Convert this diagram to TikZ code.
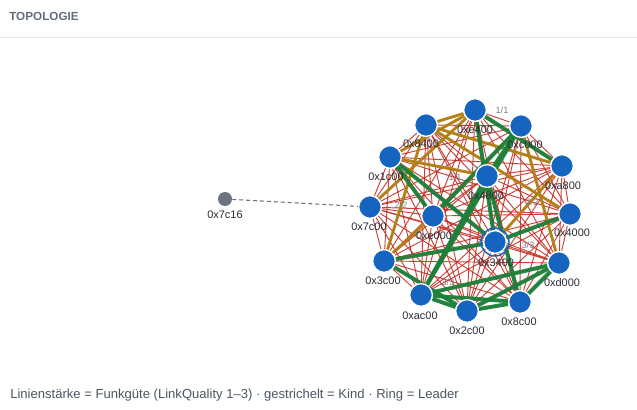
\documentclass[tikz,border=0pt]{standalone}
\usepackage{fontspec}
\setmainfont{Liberation Sans}
\usetikzlibrary{backgrounds}
\definecolor{nodeblue}{RGB}{21,101,192}
\definecolor{redl}{RGB}{196,45,35}
\definecolor{goldl}{RGB}{178,128,20}
\definecolor{greenl}{RGB}{28,128,58}
\definecolor{grayn}{RGB}{107,114,128}
\definecolor{labc}{RGB}{40,44,52}
\definecolor{hdr}{RGB}{100,108,122}
\definecolor{rule}{RGB}{229,231,235}
\definecolor{foot}{RGB}{75,85,99}
\definecolor{elab}{RGB}{120,128,140}
\tikzset{
  dev/.style={circle,fill=nodeblue,draw=white,line width=1pt,minimum size=17pt,inner sep=0pt},
  child/.style={circle,fill=grayn,minimum size=10.5pt,inner sep=0pt},
  nlab/.style={font=\fontsize{8.2}{9}\selectfont,text=labc,inner sep=0pt},
  redline/.style={draw=redl,line width=0.7pt,opacity=0.9},
  goldline/.style={draw=goldl,line width=2.2pt,opacity=0.95},
  greenline/.style={draw=greenl,line width=3pt,opacity=0.95},
  kidline/.style={draw=grayn,line width=0.8pt,dash pattern=on 3pt off 2.2pt},
  elabel/.style={font=\fontsize{6.8}{8}\selectfont,text=elab,inner sep=0pt},
}
\begin{document}
\begin{tikzpicture}[x=0.75pt,y=-0.75pt]
\path[use as bounding box] (0,0) rectangle (637,410);
\node[anchor=west,font=\bfseries\fontsize{8.8}{10}\selectfont,text=hdr,inner sep=0pt] (hd) at (9,16) {TOPOLOGIE};
\draw[rule,line width=0.75pt] (0,38) -- (637,38);
\node[anchor=west,font=\fontsize{9.8}{11}\selectfont,text=foot,inner sep=0pt] (ft) at (10,395) {Linienstärke = Funkgüte (LinkQuality 1–3) · gestrichelt = Kind · Ring = Leader};
% nodes
\node[dev] (A) at (475,110) {};
\node[dev] (B) at (521,126) {};
\node[dev] (C) at (426,125) {};
\node[dev] (D) at (390,157) {};
\node[dev] (E) at (562,166) {};
\node[dev] (F) at (487,176) {};
\node[dev] (G) at (370,207) {};
\node[dev] (H) at (570,214) {};
\node[dev] (I) at (433,216) {};
\node[dev] (J) at (495,242) {};
\node[dev] (K) at (384,261) {};
\node[dev] (L) at (559,263) {};
\node[dev] (M) at (421,295) {};
\node[dev] (N) at (520,302) {};
\node[dev] (O) at (467,311) {};
\node[child] (X) at (225,199) {};
\node[circle,draw=nodeblue,line width=1.1pt,minimum size=21pt,inner sep=0pt] (ring) at (J) {};
\begin{scope}[on background layer]
\foreach \a [count=\i] in {A,B,C,D,E,F,G,H,I,J,K,L,M,N,O}{
  \foreach \b [count=\j] in {A,B,C,D,E,F,G,H,I,J,K,L,M,N,O}{
    \ifnum\j>\i \path[redline] (\a) -- (\b); \fi
  }
}
\foreach \a/\b in {A/C,A/D,A/G,C/E,C/H,D/F,K/C,J/E,B/L,K/I}{
  \path[goldline] (\a) -- (\b);
}
\foreach \a/\b in {A/E,A/J,B/F,B/M,D/J,K/J,J/H,M/N,M/O,O/N,M/L,O/L,N/L,N/F,M/F,I/B,K/O,I/D}{
  \path[greenline] (\a) -- (\b);
}
\path[kidline] (X) -- (G);
\end{scope}
% edge labels
\node[elabel] (l1) at (502,110) {1/1};
\node[elabel] (l2) at (401,205) {2/2};
\node[elabel] (l3) at (528,245) {3/3};
\node[elabel] (l4) at (448,282) {3/3};
\node[elabel] (l5) at (455,177) {1/1};
\node[elabel] (l6) at (532,202) {2/2};
% node labels
\node[nlab] at (475,130) {0xe400};
\node[nlab] at (525,145) {0xc000};
\node[nlab] at (421,144) {0x8400};
\node[nlab] at (386,177) {0x1c00};
\node[nlab] at (563,186) {0xa800};
\node[nlab] at (486,196) {0x4800};
\node[nlab] at (369,227) {0x7c00};
\node[nlab] at (572,233) {0x4000};
\node[nlab] at (434,236) {0xe000};
\node[nlab] at (496,263) {0x3400};
\node[nlab] at (383,281) {0x3c00};
\node[nlab] at (562,283) {0xd000};
\node[nlab] at (420,316) {0xac00};
\node[nlab] at (519,322) {0x8c00};
\node[nlab] at (467,331) {0x2c00};
\node[nlab] at (225,215) {0x7c16};
\end{tikzpicture}
\end{document}
